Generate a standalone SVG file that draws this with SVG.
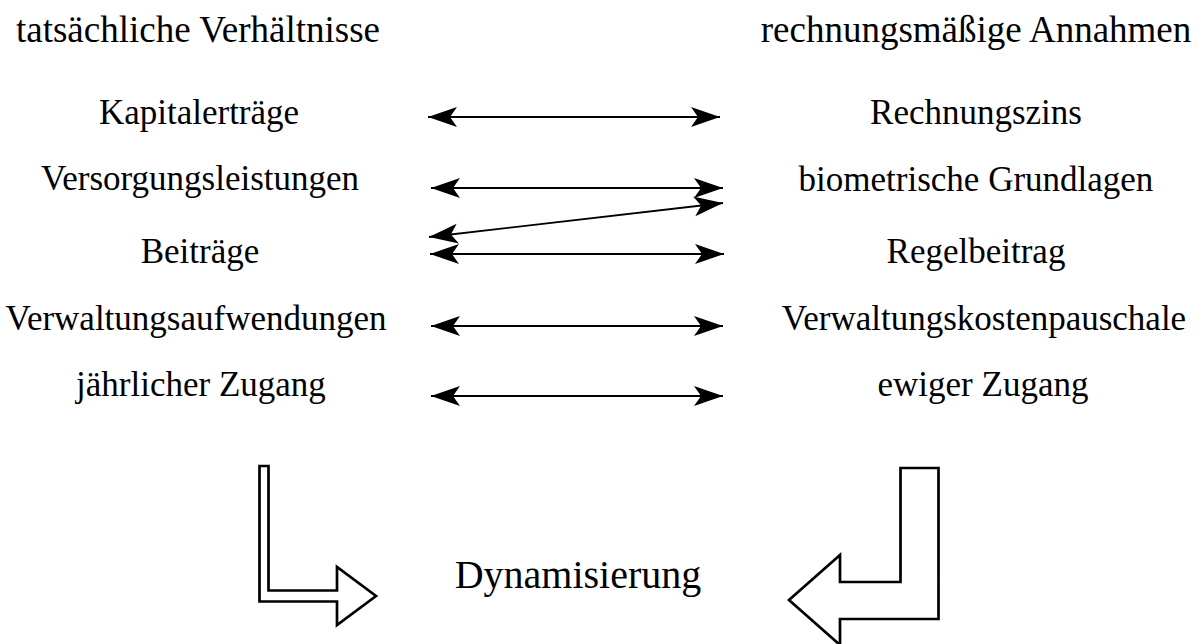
<svg xmlns="http://www.w3.org/2000/svg" width="1204" height="644" viewBox="0 0 1204 644">
<style>
text{font-family:"Liberation Serif","Times New Roman",serif;fill:#000;text-anchor:middle}
.t{font-size:37px}
.b{font-size:35px}
.d{font-size:40px}
.c{fill:none;stroke:#000;stroke-width:1.8;marker-start:url(#ah);marker-end:url(#ah)}
.big{fill:#fff;stroke:#000;stroke-width:2.7;stroke-linejoin:miter}
</style>
<defs>
<marker id="ah" markerUnits="userSpaceOnUse" viewBox="-30 -11 31 22" markerWidth="31" markerHeight="22" refX="0" refY="0" orient="auto-start-reverse">
<path d="M0,0 L-29,-10 L-22,0 L-29,10 Z" fill="#000"/>
</marker>
</defs>
<g id="title-left"><text class="t" x="198" y="42">tatsächliche Verhältnisse</text></g>
<g id="title-right"><text class="t" x="976" y="42">rechnungsmäßige Annahmen</text></g>
<g id="n-kapitalertraege"><text class="b" x="199" y="124">Kapitalerträge</text></g>
<g id="n-versorgungsleistungen"><text class="b" x="200" y="190">Versorgungsleistungen</text></g>
<g id="n-beitraege"><text class="b" x="200" y="263">Beiträge</text></g>
<g id="n-verwaltungsaufwendungen"><text class="b" x="196" y="330">Verwaltungsaufwendungen</text></g>
<g id="n-zugang-j"><text class="b" x="201" y="396">jährlicher Zugang</text></g>
<g id="n-rechnungszins"><text class="b" x="976" y="124">Rechnungszins</text></g>
<g id="n-biometrische"><text class="b" x="976" y="191">biometrische Grundlagen</text></g>
<g id="n-regelbeitrag"><text class="b" x="976" y="263">Regelbeitrag</text></g>
<g id="n-verwaltungskosten"><text class="b" x="984" y="330">Verwaltungskostenpauschale</text></g>
<g id="n-zugang-e"><text class="b" x="983" y="396">ewiger Zugang</text></g>
<g id="n-dynamisierung"><text class="d" x="578" y="588">Dynamisierung</text></g>
<g id="connectors">
<path class="c" d="M428,117 H720"/>
<path class="c" d="M431,188 H723"/>
<path class="c" d="M723,203 L429,237"/>
<path class="c" d="M430,254 H724"/>
<path class="c" d="M431,326 H723"/>
<path class="c" d="M431,396 H723"/>
<path class="big" d="M259.5,466 H268.5 V590.5 H337 V567 L376,596 L337,625 V601.5 H259.5 Z"/>
<path class="big" d="M938.5,468 H900.5 V582 H840 V555 L789,600 L840,645 V619 H938.5 Z"/>
</g>
</svg>
